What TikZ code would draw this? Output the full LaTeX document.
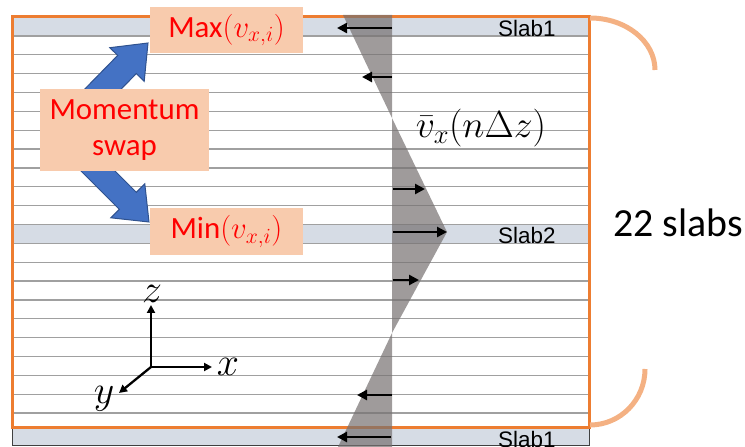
\RequirePackage{fix-cm}
\documentclass[tikz,border=0pt]{standalone}
\usepackage{fontspec}
\newfontfamily\calibri{Carlito}
\newfontfamily\arialf{Liberation Sans}
\usetikzlibrary{arrows.meta}
\definecolor{frameor}{HTML}{ED7D31}
\definecolor{braceor}{HTML}{F4B183}
\definecolor{slabfill}{HTML}{D6DCE5}
\definecolor{slabline}{HTML}{A0A0A0}
\definecolor{peach}{HTML}{F8CBAD}
\definecolor{arrblue}{HTML}{4472C4}
\definecolor{arrblued}{HTML}{2F528F}
\definecolor{profgray}{HTML}{767171}
\definecolor{txtred}{HTML}{FF0000}
\begin{document}
\begin{tikzpicture}[x=1bp,y=-1bp,
  peachbox/.style={fill=peach, draw=none, inner sep=0pt, text=txtred, font=\calibri\fontsize{31}{36}\selectfont},
  slablabel/.style={anchor=base west, inner sep=0pt, font=\arialf\fontsize{22.5}{24}\selectfont},
  velarrow/.style={line width=2.6bp, -{Triangle[length=10bp,width=10bp]}},
  axarrow/.style={line width=2.3bp, -{Triangle[length=8bp,width=8bp]}},
  axlabel/.style={anchor=base, inner sep=0pt, font=\fontsize{40}{44}\selectfont},
  bluearrow/.style={fill=arrblue, draw=arrblued, line width=1bp, line join=miter},
  bracearc/.style={draw=braceor, line width=5bp}]
\useasboundingbox (0,0) rectangle (745,447);
% slabs
\fill[slabfill] (12,17) rectangle (589,36);
\fill[slabfill] (12,224.5) rectangle (589,243.4);
\draw[fill=slabfill, draw=black!75, line width=1bp] (12,427) rectangle (589,445);
\foreach \k in {0,...,20}
  \draw[slabline, line width=1.3bp] (12,{36+18.85*\k}) -- (589,{36+18.85*\k});
% frame
\draw[frameor, line width=3bp] (12,17) rectangle (589,427);
% brace arcs
\draw[bracearc] (590,18) arc[start angle=-90, end angle=0, x radius=65, y radius=52];
\draw[bracearc] (645,369) arc[start angle=0, end angle=90, x radius=55, y radius=56];
% velocity profile
\fill[profgray, fill opacity=0.7]
  (343,15) -- (392,15) -- (392,118) -- cycle
  (392,118) -- (447,232) -- (392,333) -- cycle
  (392,333) -- (392,447) -- (338,447) -- cycle;
\draw[velarrow] (392,28) -- (337,28);
\draw[velarrow] (392,77) -- (362,77);
\draw[velarrow] (393,189) -- (425,189);
\draw[velarrow] (393,232) -- (447,232);
\draw[velarrow] (393,280) -- (419,280);
\draw[velarrow] (392,395) -- (357,395);
\draw[velarrow] (391,437) -- (337,437);
% blue arrows
\filldraw[bluearrow] (68.8,105.4) -- (117.7,55.4) -- (109.8,47.7) -- (148,43) -- (144.2,81.3) -- (136.3,73.6) -- (87.4,123.6) -- cycle;
\filldraw[bluearrow] (86.8,142.8) -- (136.3,192.3) -- (144.8,183.8) -- (149,222) -- (110.8,217.8) -- (119.3,209.3) -- (69.8,159.8) -- cycle;
% boxes
\node[peachbox, minimum width=169bp, minimum height=82bp, align=center] (swap) at (124.5,130) {Momentum\\swap};
\node[peachbox, minimum width=153bp, minimum height=46bp] (max) at (226.5,30) {Max$(v_{x,i})$};
\node[peachbox, minimum width=153bp, minimum height=47bp] (min) at (226.5,231.5) {Min$(v_{x,i})$};
% labels
\node[anchor=base, inner sep=0pt, font=\fontsize{38}{42}\selectfont] (vbar) at (481,138) {$\bar{v}_x(n\Delta z)$};
\node[slablabel] (s1top) at (498,37) {Slab1};
\node[slablabel] (s2) at (498,244) {Slab2};
\node[slablabel] (s1bot) at (498,447) {Slab1};
\node[anchor=base west, inner sep=0pt, font=\calibri\fontsize{40}{44}\selectfont] (nslabs) at (613,237) {22 slabs};
% axes
\coordinate (O) at (151,367);
\coordinate (zend) at (151,305);
\coordinate (xend) at (212,367);
\coordinate (yend) at (119,393);
\draw[axarrow] (O) -- (zend);
\draw[axarrow] (O) -- (xend);
\draw[axarrow] (O) -- (yend);
\node[axlabel] (zl) at (152,303) {$z$};
\node[axlabel] (xl) at (228,375) {$x$};
\node[axlabel] (yl) at (104,403) {$y$};
\end{tikzpicture}
\end{document}
